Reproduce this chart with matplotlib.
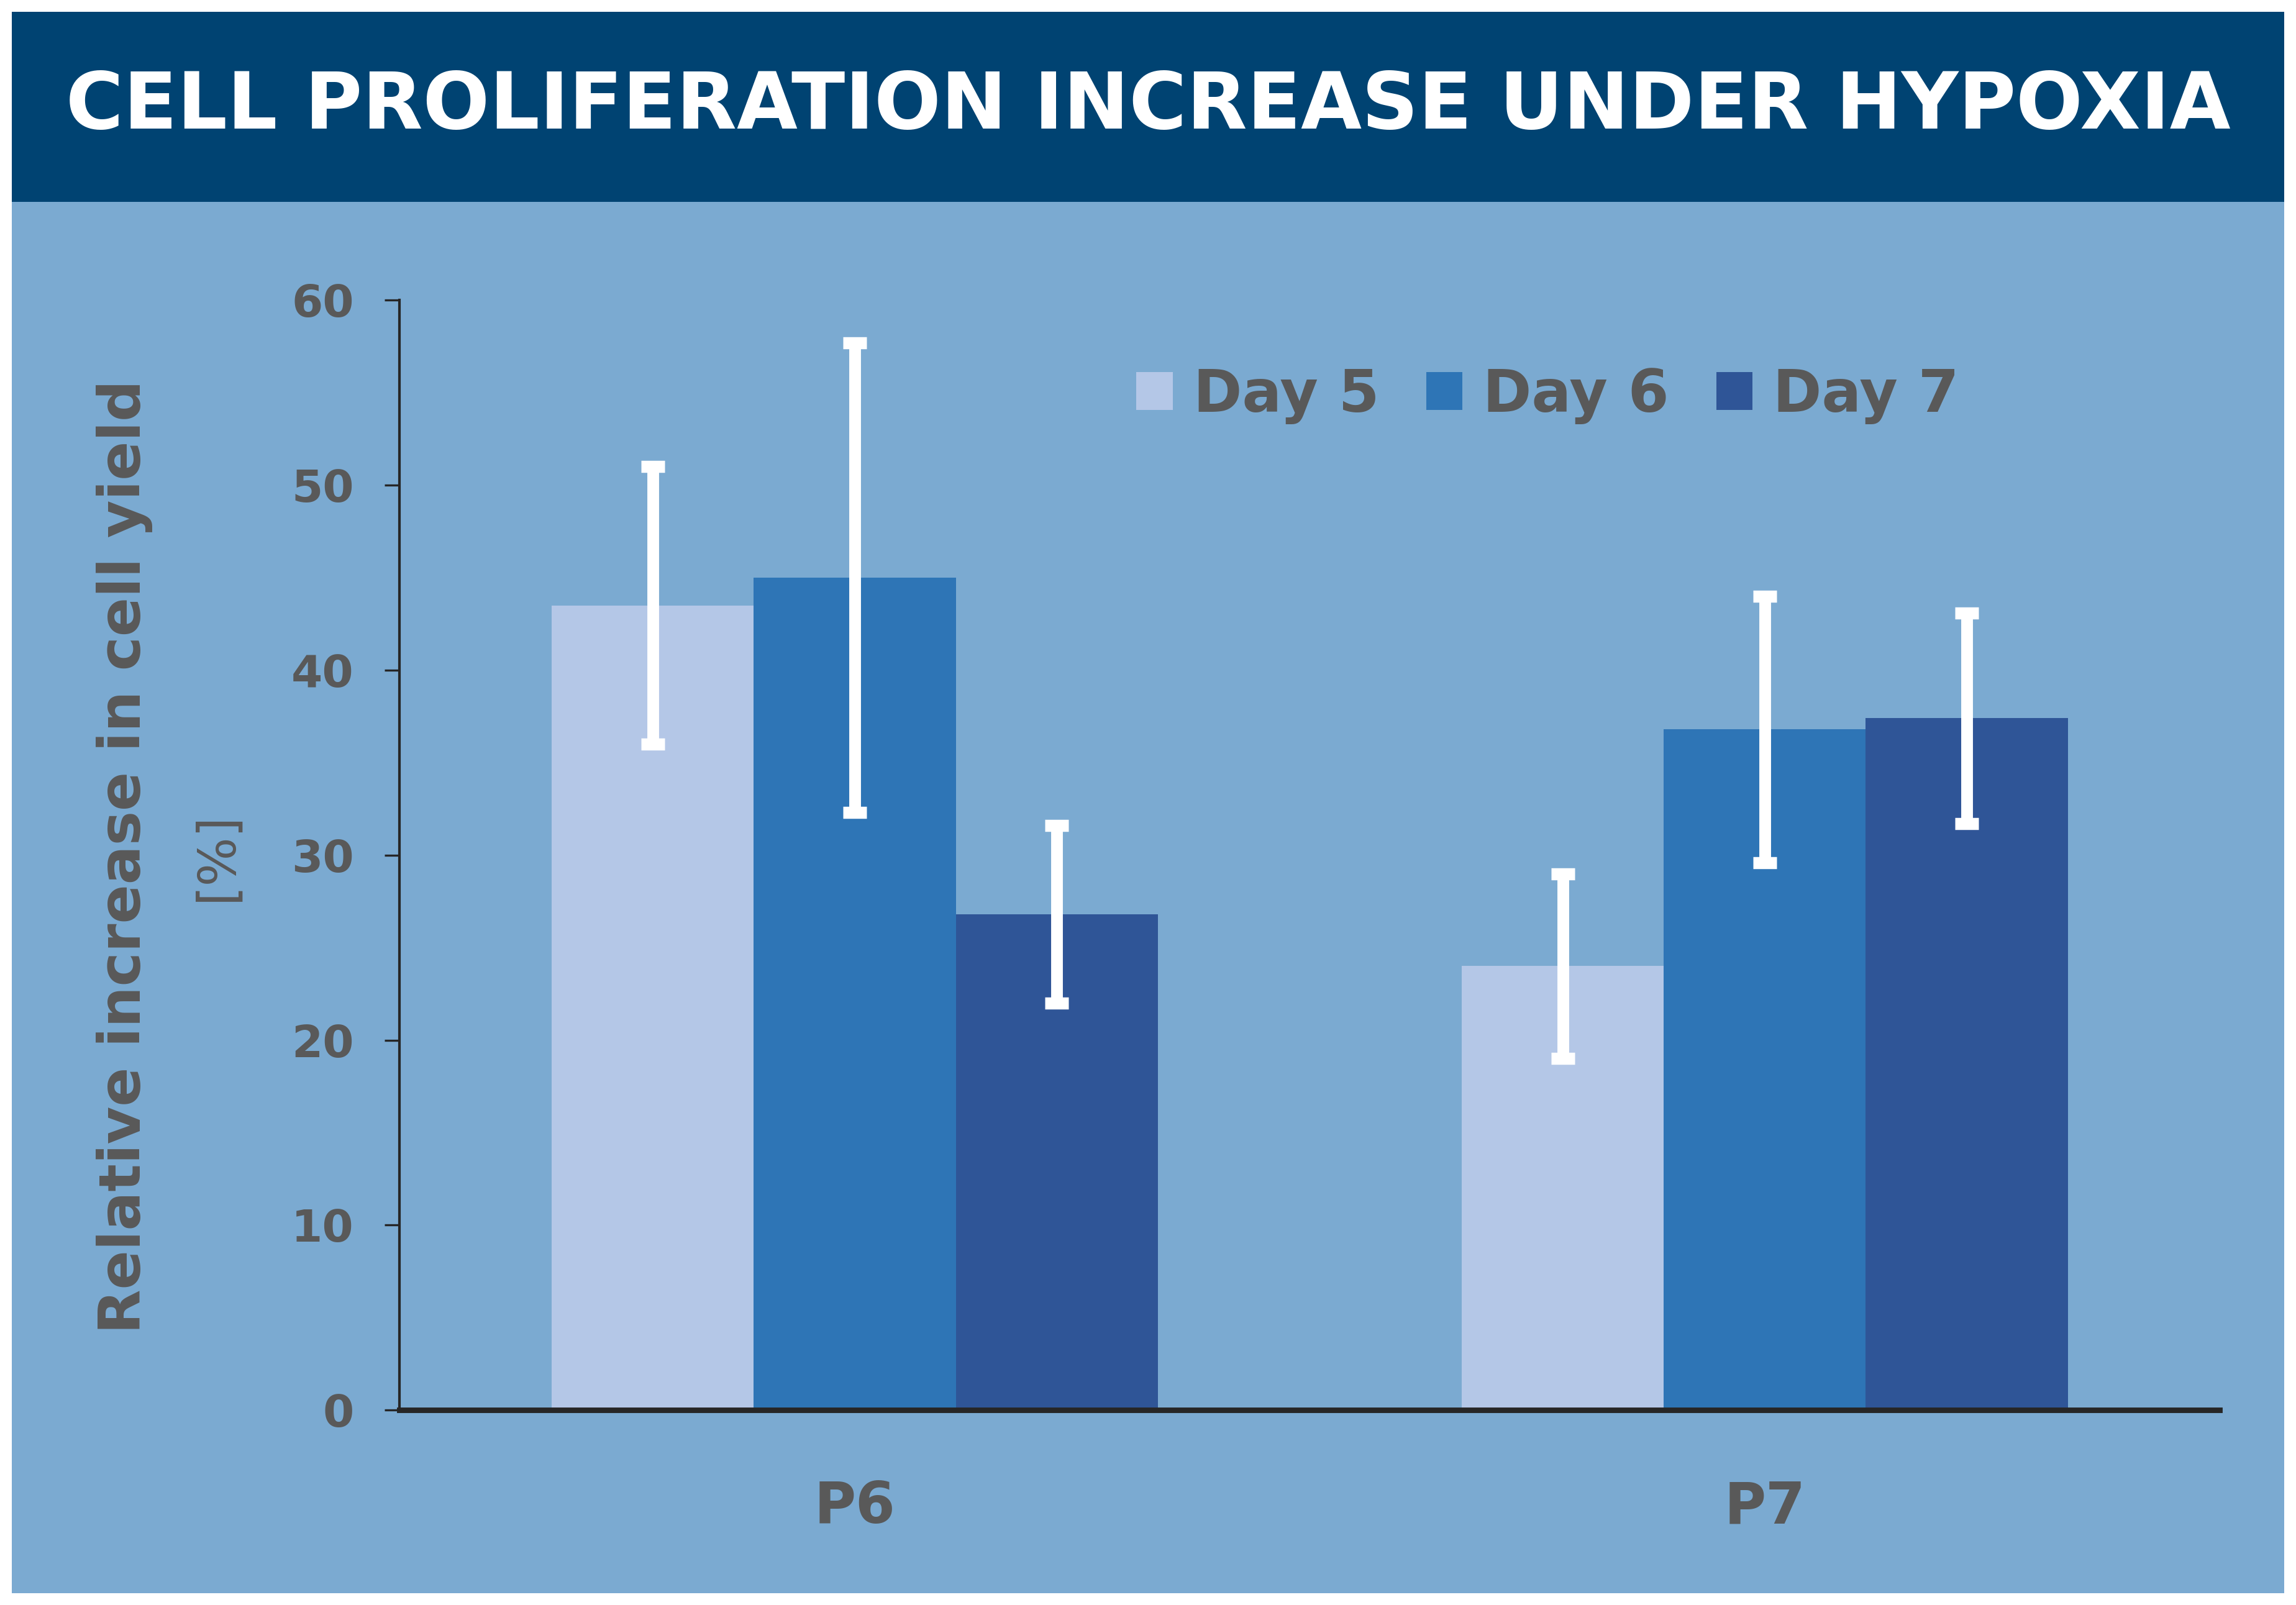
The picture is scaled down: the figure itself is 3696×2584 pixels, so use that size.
import matplotlib
matplotlib.use("Agg")
import matplotlib.pyplot as plt
import numpy as np
from matplotlib.patches import Rectangle, Patch

# data
groups = ["P6", "P7"]
series = ["Day 5", "Day 6", "Day 7"]
values = {
    "Day 5": [43.5, 24.0],
    "Day 6": [45.0, 36.8],
    "Day 7": [26.8, 37.4],
}
errors = {
    "Day 5": [7.5, 5.0],
    "Day 6": [12.7, 7.2],
    "Day 7": [4.8, 5.7],
}
colors = ["#B4C7E7", "#2E75B6", "#2F5597"]
title = "CELL PROLIFERATION INCREASE UNDER HYPOXIA"

bg = "#7BAAD1"
band = "#004372"
gray = "#595959"
axcol = "#262626"

plt.rcParams['font.family'] = ['DejaVu Sans']

fig = plt.figure(figsize=(18.48, 12.92), dpi=200, facecolor="white")

# panel + title band (behind everything)
fig.patches.append(Rectangle((0.0051, 0.0073), 0.9898, 0.9854, transform=fig.transFigure,
                             facecolor=bg, edgecolor="none", zorder=-10))
fig.patches.append(Rectangle((0.0051, 0.8741), 0.9898, 0.1186, transform=fig.transFigure,
                             facecolor=band, edgecolor="none", zorder=-9))

ax = fig.add_axes([0.1741, 0.1214, 0.7927, 0.6916])
ax.set_facecolor("none")
ax.set_zorder(1)

x = np.arange(len(groups))
w = 0.222
for i, s in enumerate(series):
    pos = x + (i - 1) * w
    ax.bar(pos, values[s], width=w, color=colors[i], zorder=2, label=s)
    ax.errorbar(pos, values[s], yerr=errors[s], fmt="none", ecolor="white",
                elinewidth=6.8, capsize=7.0, capthick=7.0, zorder=3)

ax.set_xlim(-0.5, 1.5)
ax.set_ylim(0, 60)
ax.set_yticks(range(0, 61, 10))
ax.set_xticks(x)
ax.set_xticklabels(groups)

for sp in ["top", "right"]:
    ax.spines[sp].set_visible(False)
ax.spines["left"].set_color(axcol)
ax.spines["left"].set_linewidth(1.5)
ax.spines["bottom"].set_color(axcol)
ax.spines["bottom"].set_linewidth(3.2)
ax.spines["bottom"].set_zorder(4)

ax.tick_params(axis="y", length=8.5, width=1.2, color=axcol, pad=18,
               labelsize=26, labelcolor=gray)
ax.tick_params(axis="x", length=0, pad=40, labelsize=33, labelcolor=gray)
for lab in ax.get_xticklabels() + ax.get_yticklabels():
    lab.set_fontweight("bold")

# y label (two lines, first bold)
fig.text(0.0542, 0.4662, "Relative increase in cell yield", rotation=90,
         ha="center", va="center", fontsize=33.5, fontweight="bold", color=gray)
fig.text(0.0944, 0.4662, "[%]", rotation=90, ha="center", va="center",
         fontsize=30, color=gray)

# legend
handles = [Patch(facecolor=c, edgecolor="none") for c in colors]
leg = fig.legend(handles, series, loc="center left", bbox_to_anchor=(0.4949, 0.7536),
                 ncol=3, frameon=False, fontsize=34, handlelength=0.62, handleheight=0.62,
                 handletextpad=0.35, columnspacing=0.8, borderpad=0, borderaxespad=0)
for t in leg.get_texts():
    t.set_color(gray)
    t.set_fontweight("bold")

# title, fit to width
tt = fig.text(0.5, 0.9334, title, ha="center", va="center", color="white",
              fontsize=50, fontweight="bold")
r = fig.canvas.get_renderer()
target = 3488
for _ in range(3):
    bw = tt.get_window_extent(r).width
    tt.set_fontsize(tt.get_fontsize() * target / bw)

fig.savefig("out.png", dpi=200, facecolor="white")
